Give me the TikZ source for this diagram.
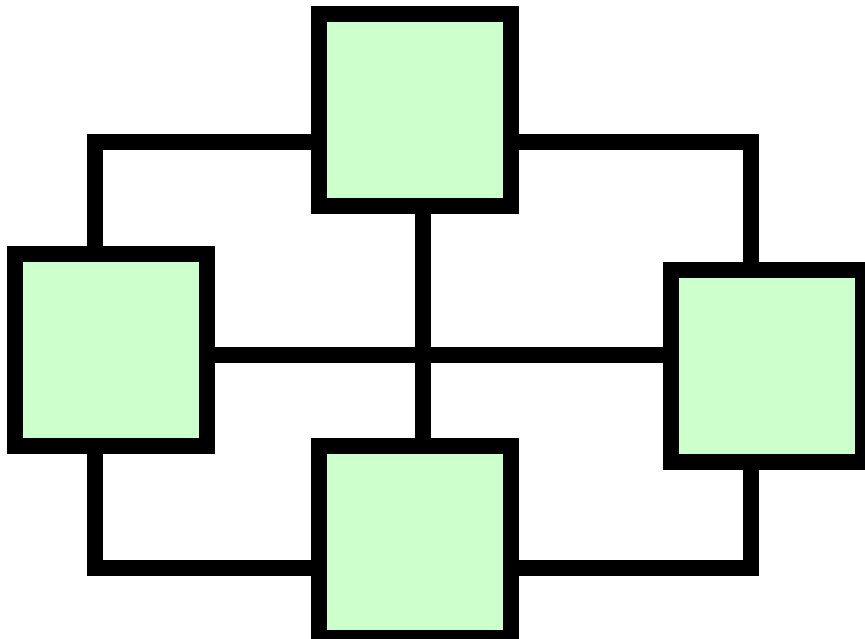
\documentclass[tikz,border=0pt]{standalone}
\usetikzlibrary{backgrounds}
\definecolor{boxfill}{RGB}{204,255,204}
\begin{document}
\begin{tikzpicture}[x=1pt,y=-1pt,
  blk/.style={draw=black,fill=boxfill,line width=16pt,rectangle,minimum width=192pt,minimum height=192pt,inner sep=0pt,outer sep=0pt},
  wire/.style={draw=black,line width=16pt,line join=miter,line cap=butt}]
\useasboundingbox (0,0) rectangle (865,638);
\node[blk] (T) at (415,110) {};
\node[blk] (L) at (111,350) {};
\node[blk] (R) at (767,366) {};
\node[blk] (B) at (415,542) {};
\coordinate (c1) at (95,142);
\coordinate (c2) at (751,142);
\coordinate (c3) at (95,568);
\coordinate (c4) at (751,568);
\coordinate (vx) at (423,355);
\begin{scope}[on background layer]
\draw[wire] (T.west |- c1) -- (c1) -- (L.north -| c1);
\draw[wire] (T.east |- c2) -- (c2) -- (R.north -| c2);
\draw[wire] (T.south -| vx) -- (B.north -| vx);
\draw[wire] (L.east |- vx) -- (R.west |- vx);
\draw[wire] (L.south -| c3) -- (c3) -- (B.west |- c3);
\draw[wire] (R.south -| c4) -- (c4) -- (B.east |- c4);
\end{scope}
\end{tikzpicture}
\end{document}
